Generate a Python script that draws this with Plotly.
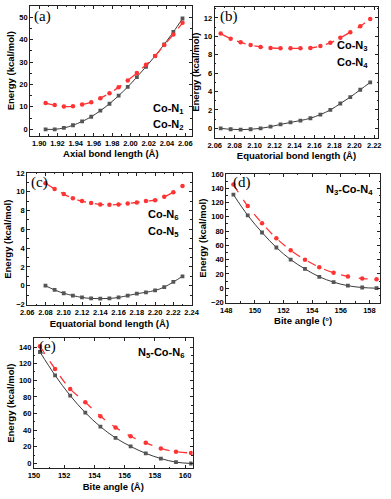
import plotly.graph_objects as go

W, H = 391, 499

# ---------------- data ----------------
a_x = [1.907 + 0.01 * i for i in range(16)]
a_black = [0.0, 0.0, 0.6, 1.8, 3.5, 5.6, 8.3, 11.4, 15.0, 18.9, 23.3, 27.9, 32.7, 37.9, 43.4, 49.4]
a_red = [11.7, 10.8, 10.2, 10.3, 11.1, 12.1, 13.9, 16.1, 18.7, 21.8, 25.1, 28.8, 32.7, 37.6, 42.3, 47.5]

b_x = [2.066 + 0.01 * i for i in range(16)]
b_black = [0.0, -0.1, -0.14, -0.1, 0.0, 0.18, 0.43, 0.64, 0.85, 1.1, 1.5, 2.0, 2.7, 3.4, 4.2, 5.0]
b_red = [10.3, 9.75, 9.35, 9.05, 8.85, 8.75, 8.7, 8.7, 8.7, 8.75, 8.95, 9.3, 9.85, 10.45, 11.1, 11.9]

c_x = [2.08 + 0.01 * i for i in range(16)]
c_black = [0.0, -0.45, -0.8, -1.05, -1.25, -1.35, -1.38, -1.35, -1.25, -1.05, -0.85, -0.7, -0.5, -0.15, 0.4, 1.0]
c_red = [10.9, 10.3, 9.75, 9.3, 9.0, 8.8, 8.65, 8.6, 8.65, 8.75, 8.85, 9.0, 9.1, 9.45, 9.95, 10.6]

d_x = [148.5 + i for i in range(11)]
d_black = [131.0, 102.0, 78.0, 57.0, 40.0, 27.0, 16.0, 8.5, 3.5, 1.0, 0.0]
d_red = [145.0, 115.0, 91.0, 70.0, 53.0, 40.0, 29.5, 21.5, 16.5, 13.5, 12.5]

e_x = [150.4 + i for i in range(11)]
e_black = [134.0, 106.0, 81.6, 61.1, 44.2, 30.8, 20.5, 12.2, 5.9, 1.6, 0.0]
e_red = [141.0, 113.6, 89.5, 73.7, 56.8, 43.4, 32.7, 24.8, 18.1, 14.2, 12.6]

panels = [
    dict(x=a_x, k=a_black, r=a_red, xr=[1.89, 2.067], yr=[-2.8, 55], x0t=1.90, xdt=0.02, xm=0.01,
         yd=10, ym=5, xfmt=".2f", xtitle="Axial bond length (Å)", px=(24, 192, 2, 134)),
    dict(x=b_x, k=b_black, r=b_red, xr=[2.06, 2.224], yr=[-1.0, 13.2], x0t=2.06, xdt=0.02, xm=0.01,
         yd=2, ym=1, xfmt=".2f", xtitle="Equatorial bond length (Å)", px=(216, 386, 3, 136)),
    dict(x=c_x, k=c_black, r=c_red, xr=[2.06, 2.24], yr=[-2.1, 12.0], x0t=2.06, xdt=0.02, xm=0.01,
         yd=2, ym=1, xfmt=".2f", xtitle="Equatorial bond length (Å)", px=(21, 192, 172, 307)),
    dict(x=d_x, k=d_black, r=d_red, xr=[148, 158.75], yr=[-20, 160], x0t=148, xdt=2, xm=1,
         yd=20, ym=10, xfmt="d", xtitle="Bite angle (°)", px=(228, 388, 173, 304)),
    dict(x=e_x, k=e_black, r=e_red, xr=[150, 160.5], yr=[-6, 151], x0t=150, xdt=2, xm=1,
         yd=20, ym=10, xfmt="d", xtitle="Bite angle (Å)", px=(28, 193, 340, 473)),
]

fig = go.Figure()
tickfont = dict(family="Arial", size=7.5, color="black", weight="bold")
titlefont = dict(family="Arial", size=9.5, color="black", weight="bold")

for i, p in enumerate(panels):
    n = "" if i == 0 else str(i + 1)
    xa, ya = "x" + n, "y" + n
    x0, x1, y0, y1 = p["px"]
    fig.add_trace(go.Scatter(x=p["x"], y=p["k"], xaxis=xa, yaxis=ya, mode="lines+markers",
                             line=dict(color="#3a3a3a", width=1, shape="spline"),
                             marker=dict(symbol="square", size=3.8, color="#555555"),
                             showlegend=False))
    fig.add_trace(go.Scatter(x=p["x"], y=p["r"], xaxis=xa, yaxis=ya, mode="lines+markers",
                             line=dict(color="#ff3333", width=1.3, dash="dash", shape="spline"),
                             marker=dict(symbol="circle", size=4.5, color="#ff3333"),
                             showlegend=False))
    common = dict(showline=True, linecolor="#222", linewidth=1, mirror="ticks", ticks="inside",
                  ticklen=3, tickcolor="#222", showgrid=False, zeroline=False, tickfont=tickfont)
    fig.layout["xaxis" + n] = dict(common, domain=[x0 / W, x1 / W], anchor=ya, range=p["xr"],
                                   tick0=p["x0t"], dtick=p["xdt"], tickformat=p["xfmt"],
                                   minor=dict(ticks="inside", ticklen=1.5, dtick=p["xm"], tickcolor="#222"),
                                   title=dict(text=p["xtitle"], font=titlefont, standoff=3))
    fig.layout["yaxis" + n] = dict(common, domain=[1 - y1 / H, 1 - y0 / H], anchor=xa, range=p["yr"],
                                   tick0=0, dtick=p["yd"],
                                   minor=dict(ticks="inside", ticklen=1.5, dtick=p["ym"], tickcolor="#222"),
                                   title=dict(text="Energy (kcal/mol)", font=titlefont, standoff=2))

# panel letters
letters = [("(a)", 26, 13), ("(b)", 219, 13), ("(c)", 23, 182), ("(d)", 233, 182), ("(e)", 31, 349)]
for t, x, y in letters:
    fig.add_annotation(text=t, x=x / W, y=1 - y / H, xref="paper", yref="paper", xanchor="left",
                       yanchor="middle", showarrow=False,
                       font=dict(family="Liberation Serif", size=15, color="black"))

labels = [("Co-N<sub>1</sub>", 186, 107), ("Co-N<sub>2</sub>", 186, 123),
          ("Co-N<sub>3</sub>", 377, 43), ("Co-N<sub>4</sub>", 377, 60),
          ("Co-N<sub>6</sub>", 181, 215), ("Co-N<sub>5</sub>", 181, 232),
          ("N<sub>3</sub>-Co-N<sub>4</sub>", 383, 189),
          ("N<sub>5</sub>-Co-N<sub>6</sub>", 186, 355)]
for t, x, y in labels:
    fig.add_annotation(text=t, x=x / W, y=1 - y / H, xref="paper", yref="paper",
                       xanchor="right", yanchor="middle", showarrow=False,
                       font=dict(family="Arial", size=11, color="black", weight="bold"))

fig.update_layout(width=W, height=H, margin=dict(l=0, r=0, t=0, b=0),
                  plot_bgcolor="white", paper_bgcolor="white")
fig.write_html("out.html", config={"displayModeBar": False},
               post_script="document.body.style.margin='0px';")
